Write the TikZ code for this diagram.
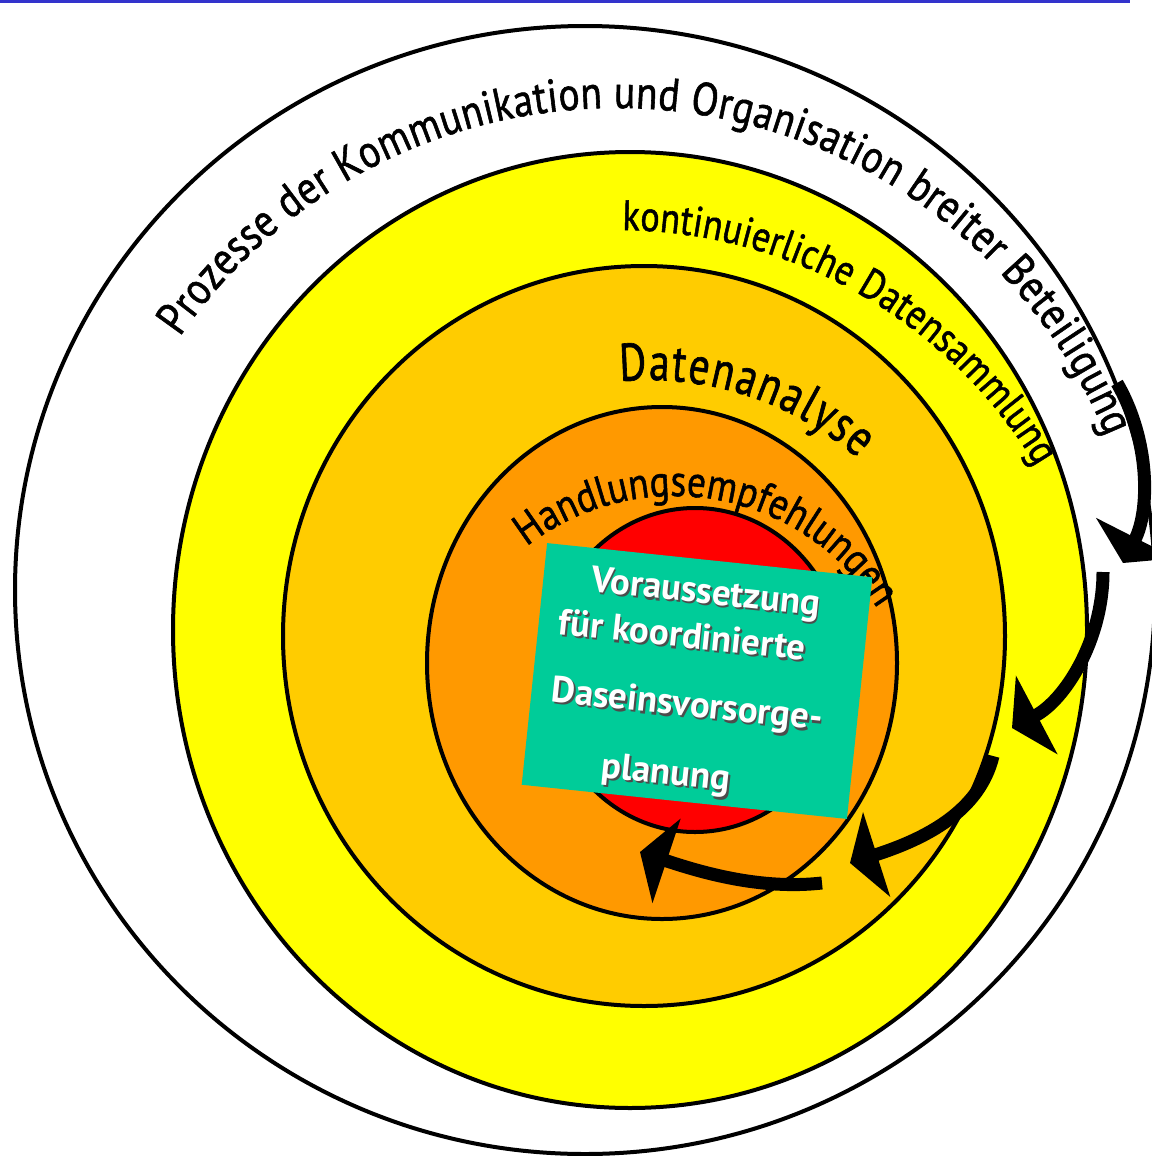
\documentclass[tikz,border=0pt]{standalone}
\usepackage{fontspec}
\setmainfont{PT Sans}
\newfontfamily\ringfont[FakeStretch=0.85, FakeBold=1.2]{PT Sans}
\newfontfamily\ringfontnarrow[FakeStretch=0.78, FakeBold=1.2]{PT Sans}
\newfontfamily\boxfont{PT Sans}
\usetikzlibrary{arrows.meta, decorations.text, positioning}

\definecolor{topblue}{HTML}{3333CC}
\definecolor{ringyellow}{HTML}{FFFF00}
\definecolor{ringgold}{HTML}{FFCC00}
\definecolor{ringorange}{HTML}{FF9900}
\definecolor{corered}{HTML}{FF0000}
\definecolor{boxteal}{HTML}{00CC99}

\tikzset{
  ring/.style={draw=black, line width=0.8mm},
  ringtext/.style={decorate, decoration={text along path, text align=fit to path, text={#1}}},
  ringtextleft/.style={decorate, decoration={text along path, text align=left, text={#1}}},
  bigarrow/.style={line width=2.6mm, -{Triangle[length=5.6mm, width=17.6mm]}},
  corebox/.style={fill=boxteal, minimum width=65.4mm, minimum height=48.6mm, inner sep=0pt, transform shape},
  boxtext/.style={font=\boxfont\bfseries\fontsize{21}{24}\selectfont, text=white, inner sep=0pt, anchor=base west, transform shape}
}

\begin{document}
\begin{tikzpicture}[x=0.2mm, y=0.2mm]
  \useasboundingbox (0,0) rectangle (1151,-1156);
  % rule at the top
  \fill[topblue] (0,0) rectangle (1130,-3);

  % the rings, from outside in
  \draw[ring, fill=white] (585,-590) ellipse [x radius=570, y radius=564];
  \draw[ring, fill=ringyellow] (630,-630) ellipse [x radius=457, y radius=478];
  \draw[ring, fill=ringgold] (644,-636) ellipse [x radius=361, y radius=370];
  \draw[ring, fill=ringorange] (662,-663) ellipse [x radius=235, y radius=256];
  \draw[ring, fill=corered] (695,-670) ellipse [x radius=150, y radius=162];

  % the ring labels
  \path[ringtext={|\ringfont\fontsize{26.3}{27}\selectfont|Prozesse der Kommunikation und Organisation breiter Beteiligung}]
    ([shift={(145.4:530)}]616,-638) arc[start angle=145.4, end angle=22.3, radius=530];
  \path[ringtext={|\ringfont\fontsize{24.2}{25}\selectfont|kontinuierliche Datensammlung}]
    ([shift={(89.5:488)}]618,-718) arc[start angle=89.5, end angle=31, radius=488];
  \path[ringtext={|\ringfontnarrow\fontsize{30}{30}\selectfont|Datenanalyse}]
    ([shift={(95:320)}]648,-700) arc[start angle=95, end angle=49, radius=320];
  \path[ringtextleft={|\ringfont\fontsize{24.9}{25}\selectfont|Handlungsempfehlungen}]
    ([shift={(127.9:240)}]674,-736) arc[start angle=127.9, end angle=10, radius=240];

  % the box in the middle
  \begin{scope}[shift={(697,-681)}, rotate=-6]
    \node[corebox] (core) at (0,0) {};
    \foreach \lx/\ly/\lname/\ltext in {-116/78/vor/Voraussetzung, -144/32/fuer/für koordinierte, -144/-36/dasein/Daseinsvorsorge-, -86/-106/plan/planung}
    {
      \node[boxtext, text=black!70] at (\lx+2, \ly-2) {\ltext};
      \node[boxtext] (\lname) at (\lx, \ly) {\ltext};
    }
  \end{scope}

  % the arrows
  \coordinate (a1s) at (1117,-383);
  \coordinate (a1e) at (1123,-563);
  \coordinate (a2s) at (1103,-572);
  \coordinate (a2e) at (1012,-728);
  \coordinate (a3s) at (993,-756);
  \coordinate (a3e) at (850,-863);
  \coordinate (a4s) at (822,-883);
  \coordinate (a4e) at (640,-852);
  \draw[bigarrow] (a1s) .. controls (1150,-440) and (1150,-510) .. (a1e);
  \draw[bigarrow] (a2s) .. controls (1103,-640) and (1065,-700) .. (a2e);
  \draw[bigarrow] (a3s) .. controls (980,-810) and (928,-838) .. (a3e);
  \draw[bigarrow] (a4s) .. controls (760,-890) and (700,-872) .. (a4e);
\end{tikzpicture}
\end{document}
